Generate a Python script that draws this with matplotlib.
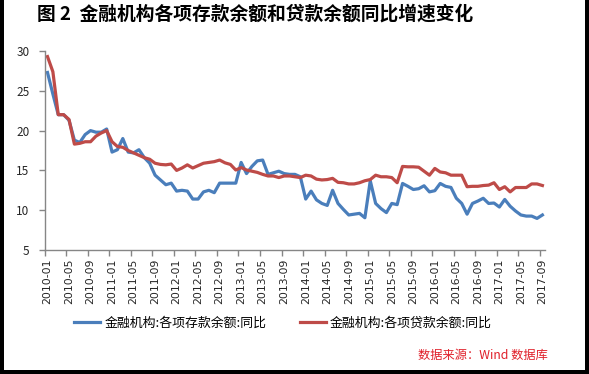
import matplotlib
matplotlib.use('Agg')
import matplotlib.pyplot as plt
from matplotlib.patches import Rectangle
import numpy as np

plt.rcParams['font.family'] = ['Noto Sans CJK SC', 'DejaVu Sans']

# ---- data ----
tick_labels = ['2010-01', '2010-05', '2010-09', '2011-01', '2011-05', '2011-09',
               '2012-01', '2012-05', '2012-09', '2013-01', '2013-05', '2013-09',
               '2014-01', '2014-05', '2014-09', '2015-01', '2015-05', '2015-09',
               '2016-01', '2016-05', '2016-09', '2017-01', '2017-05', '2017-09']

deposit = [27.3, 24.6, 22.0, 22.0, 21.3, 18.8, 18.5, 19.5, 20.0, 19.8,
           19.8, 20.2, 17.3, 17.6, 19.0, 17.3, 17.2, 17.6, 16.6, 15.9,
           14.4, 13.8, 13.2, 13.4, 12.4, 12.5, 12.4, 11.4, 11.4, 12.3,
           12.5, 12.2, 13.4, 13.4, 13.4, 13.4, 16.0, 14.6, 15.5, 16.2,
           16.3, 14.5, 14.7, 14.9, 14.6, 14.5, 14.5, 14.2, 11.4, 12.4,
           11.3, 10.85, 10.6, 12.5, 10.85, 10.1, 9.4, 9.5, 9.6, 9.05,
           13.7, 10.85, 10.2, 9.7, 10.85, 10.7, 13.36, 13.0, 12.6, 12.7,
           13.07, 12.3, 12.45, 13.36, 13.0, 12.86, 11.5, 10.85, 9.5, 10.85,
           11.15, 11.5, 10.85, 10.9, 10.4, 11.35, 10.5, 9.9, 9.4, 9.26,
           9.26, 8.97, 9.4]

loan = [29.3, 27.4, 22.0, 22.0, 21.4, 18.3, 18.4, 18.6, 18.6, 19.3,
        19.7, 20.0, 18.6, 18.0, 17.9, 17.5, 17.2, 16.9, 16.6, 16.4,
        15.9, 15.75, 15.7, 15.8, 15.0, 15.3, 15.7, 15.3, 15.6, 15.9,
        16.0, 16.1, 16.3, 15.95, 15.75, 15.05, 15.35, 15.05, 14.9, 14.75,
        14.5, 14.3, 14.3, 14.1, 14.3, 14.3, 14.2, 14.1, 14.4, 14.3,
        13.9, 13.8, 13.85, 14.0, 13.5, 13.45, 13.3, 13.3, 13.45, 13.7,
        13.85, 14.4, 14.2, 14.2, 14.1, 13.45, 15.5, 15.45, 15.45, 15.4,
        14.9, 14.4, 15.25, 14.8, 14.7, 14.4, 14.4, 14.4, 12.95, 13.0,
        13.0, 13.1, 13.15, 13.45, 12.6, 12.95, 12.3, 12.85, 12.85, 12.85,
        13.3, 13.3, 13.1]

series_names = ['金融机构:各项存款余额:同比', '金融机构:各项贷款余额:同比']
title = '图 2  金融机构各项存款余额和贷款余额同比增速变化'
source = '数据来源：Wind 数据库'

W, H = 589, 374
fig = plt.figure(figsize=(W / 100, H / 100), dpi=100)
fig.patch.set_facecolor('white')

ax = fig.add_axes([44.8 / W, 1 - 250 / H, (545.1 - 44.8) / W, (250 - 51) / H])
x = np.arange(len(deposit))
ax.plot(x, deposit, color='#4A7EBB', lw=2.3, label=series_names[0])
ax.plot(x, loan, color='#BE4B48', lw=2.3, label=series_names[1])

ax.set_xlim(-0.5, len(deposit) - 0.5)
ax.set_ylim(5, 30)
ax.set_yticks([5, 10, 15, 20, 25, 30])

for s in ['top', 'right']:
    ax.spines[s].set_visible(False)
for s in ['left', 'bottom']:
    ax.spines[s].set_color('#868686')
    ax.spines[s].set_linewidth(1.0)

label_pos = np.arange(0, len(deposit), 4)
ax.set_xticks(label_pos)
ax.set_xticklabels(tick_labels, rotation=90, fontsize=7.8, color='#262626',
                   family='DejaVu Sans')
ax.set_xticks(label_pos - 0.5, minor=True)
ax.tick_params(axis='x', which='major', length=0, pad=6)
ax.tick_params(axis='x', which='minor', length=4, color='#868686', width=1)
ax.tick_params(axis='y', length=4, color='#868686', width=1, pad=7,
               labelsize=8.5, labelcolor='#262626')

fig.text(37 / W, 1 - 14 / H, title, fontsize=13.5, fontweight='bold',
         ha='left', va='center', color='black')

leg = fig.legend(loc='center', bbox_to_anchor=(283 / W, 1 - 323 / H), ncol=2,
                 frameon=False, fontsize=9.3, handlelength=2.0,
                 handletextpad=0.3, columnspacing=2.6)

fig.text(548 / W, 1 - 355 / H, source, fontsize=8.8, color='#E0202A',
         ha='right', va='center')

# black frame on left, right, bottom
for (x0, y0, w, h) in [(0, 0, 4, H), (W - 4, 0, 4, H), (0, 0, W, 4)]:
    fig.add_artist(Rectangle((x0 / W, y0 / H), w / W, h / H, transform=fig.transFigure,
                             facecolor='black', edgecolor='none'))

fig.savefig('out.png', dpi=100)
